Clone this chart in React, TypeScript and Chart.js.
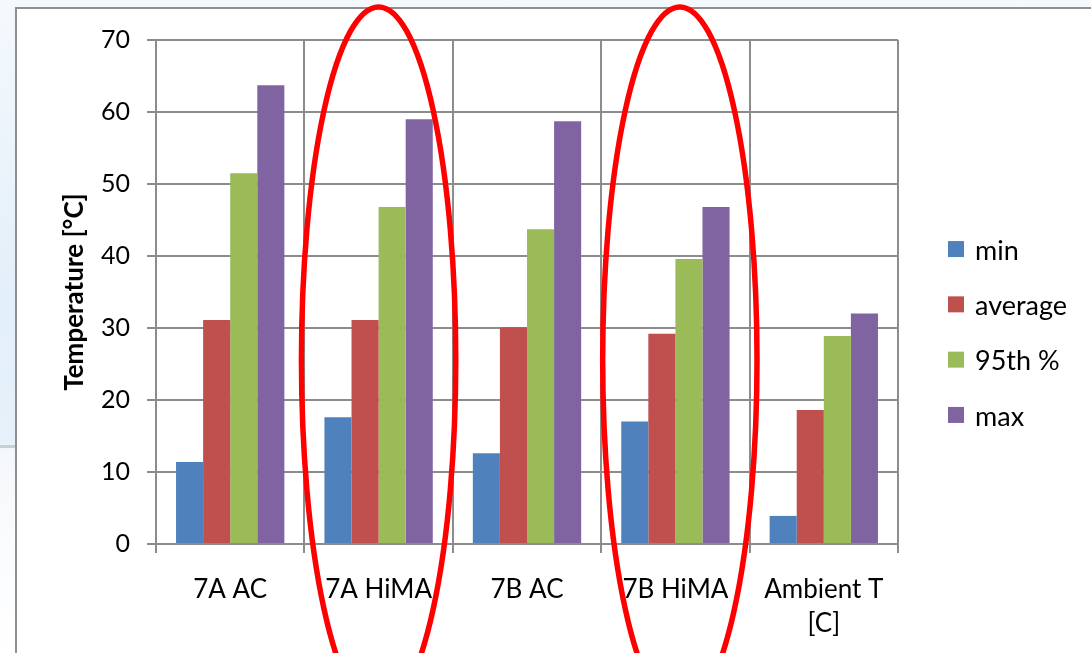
import React, { useEffect, useRef } from "react";
import { Chart, registerables } from "chart.js";

Chart.register(...registerables);

// Categories and series (temperatures in °C)
const categories: (string | string[])[] = ["7A AC", "7A HiMA", "7B AC", "7B HiMA", ["Ambient T", "[C]"]];
const minValues = [11.4, 17.6, 12.6, 17.0, 3.9];
const averageValues = [31.1, 31.1, 30.1, 29.2, 18.6];
const p95Values = [51.5, 46.8, 43.7, 39.6, 28.9];
const maxValues = [63.7, 59.0, 58.7, 46.8, 32.0];
const seriesNames = ["min", "average", "95th %", "max"];
const seriesColors = ["#4F81BD", "#C0504D", "#9BBB59", "#8064A2"];
const yMin = 0;
const yMax = 70;
const yStep = 10;

// Categories circled in red (index in category units)
const ringCenters = [1.0, 3.03];

const FONT = "Lato, 'Open Sans', sans-serif";
const GRID = "#8c8c8c";

const ringPlugin = {
  id: "redRings",
  afterDraw(chart: any) {
    const { ctx } = chart;
    const x = chart.scales.x;
    const y = chart.scales.y;
    const x0 = x.getPixelForValue(0);
    const catW = x.getPixelForValue(1) - x0;
    const cy = y.getPixelForValue(25.6);
    const ry = y.getPixelForValue(0) - y.getPixelForValue(49);
    ctx.save();
    ctx.strokeStyle = "#ff0000";
    ctx.lineWidth = 5.5;
    ringCenters.forEach((c) => {
      ctx.beginPath();
      ctx.ellipse(x0 + c * catW, cy, 0.52 * catW, ry, 0, 0, Math.PI * 2);
      ctx.stroke();
    });
    ctx.restore();
  },
};

const sideLegendPlugin = {
  id: "sideLegend",
  afterDatasetsDraw(chart: any) {
    const { ctx, chartArea } = chart;
    const rowGap = 55.3;
    const box = 16;
    const items = chart.data.datasets;
    const left = chartArea.right + 50;
    const midY = (chartArea.top + chartArea.bottom) / 2 + 40;
    const startY = midY - ((items.length - 1) * rowGap) / 2;
    ctx.save();
    ctx.font = `27px ${FONT}`;
    ctx.textBaseline = "middle";
    ctx.textAlign = "left";
    items.forEach((ds: any, i: number) => {
      const cy = startY + i * rowGap;
      ctx.fillStyle = ds.backgroundColor;
      ctx.fillRect(left, cy - box / 2, box, box);
      ctx.fillStyle = "#000";
      ctx.fillText(ds.label, left + 27, cy + 2);
    });
    ctx.restore();
  },
};

export default function App() {
  const canvasRef = useRef<HTMLCanvasElement | null>(null);

  useEffect(() => {
    document.body.style.margin = "0";
    const canvas = canvasRef.current;
    if (!canvas) return;
    const series = [minValues, averageValues, p95Values, maxValues];
    const chart = new Chart(canvas, {
      type: "bar",
      data: {
        labels: categories as any,
        datasets: series.map((values, i) => ({
          label: seriesNames[i],
          data: values,
          backgroundColor: seriesColors[i],
          borderWidth: 0,
          barPercentage: 1,
          categoryPercentage: 0.73,
        })),
      },
      options: {
        responsive: false,
        animation: false,
        devicePixelRatio: 1,
        layout: { padding: { left: 0, top: 40, right: 193, bottom: 0 } },
        plugins: {
          legend: { display: false },
          tooltip: { enabled: false },
        },
        scales: {
          x: {
            grid: { offset: true, color: GRID, lineWidth: 2, tickLength: 9, drawTicks: true },
            border: { color: GRID, width: 2 },
            ticks: {
              color: "#000",
              font: { family: FONT, size: 26, lineHeight: 1.3 },
              padding: 20,
              maxRotation: 0,
              autoSkip: false,
            },
            afterFit: (s: any) => {
              s.height = 109;
            },
          },
          y: {
            min: yMin,
            max: yMax,
            ticks: {
              stepSize: yStep,
              color: "#000",
              font: { family: FONT, size: 25 },
              padding: 17,
            },
            grid: { color: GRID, lineWidth: 2, tickLength: 9 },
            border: { color: GRID, width: 2 },
            title: {
              display: true,
              text: "Temperature [°C]",
              color: "#000",
              font: { family: FONT, size: 26, weight: "bold" },
              padding: { top: 59, bottom: 0 },
            },
            afterFit: (s: any) => {
              s.width = 156;
            },
          },
        },
      },
      plugins: [sideLegendPlugin, ringPlugin],
    });
    return () => chart.destroy();
  }, []);

  return (
    <div
      style={{
        position: "fixed",
        left: 0,
        top: 0,
        width: 1091,
        height: 653,
        overflow: "hidden",
        background: "linear-gradient(180deg, #f4f9fd 0%, #e3eff9 45%, #e6f1fa 68%, #f5f8fb 69%, #ffffff 100%)",
      }}
    >
      <div
        style={{
          position: "absolute",
          left: 15,
          top: 7,
          width: 1100,
          height: 700,
          background: "#ffffff",
          borderLeft: "2px solid #8f8f8f",
          borderTop: "2px solid #8f8f8f",
        }}
      />
      <div
        style={{
          position: "absolute",
          left: 0,
          top: 445,
          width: 15,
          height: 3,
          background: "#c9ced3",
        }}
      />
      <canvas
        ref={canvasRef}
        width={1091}
        height={653}
        style={{ position: "absolute", left: 0, top: 0, width: 1091, height: 653 }}
      />
    </div>
  );
}
